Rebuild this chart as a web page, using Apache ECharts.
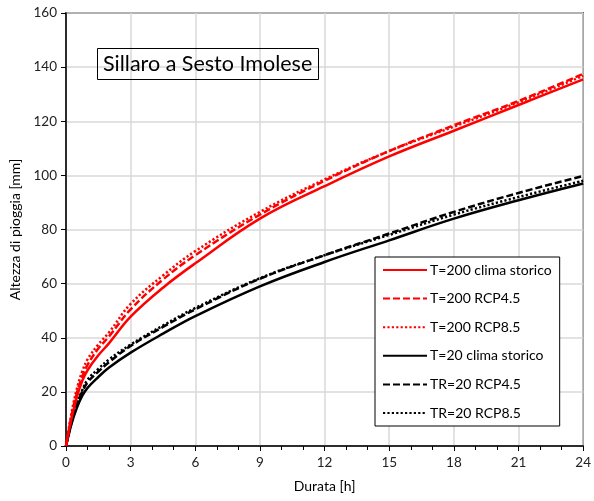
<!DOCTYPE html>
<html>
<head>
<meta charset="utf-8">
<script src="https://cdn.jsdelivr.net/npm/echarts@6/dist/echarts.min.js"></script>
<style>
html,body{margin:0;padding:0;background:#fff;}
#chart{width:594px;height:501px;}
</style>
</head>
<body>
<div id="chart"></div>
<script>
// Data
const durations = [0, 0.25, 0.5, 0.75, 1, 1.5, 2, 3, 4.5, 6, 9, 12, 15, 18, 21, 24];
const seriesNames = ['T=200 clima storico', 'T=200 RCP4.5', 'T=200 RCP8.5', 'T=20 clima storico', 'TR=20 RCP4.5', 'TR=20 RCP8.5'];
const red200Storico = [0, 10, 18, 24, 28, 33.5, 38, 47.8, 58.5, 67.5, 84, 96, 107, 116.5, 126, 135.5];
const red200Rcp45  = [0, 11, 19.5, 25.5, 30, 36, 40.5, 50.5, 61.5, 70.5, 85.5, 98, 109, 118.5, 127.5, 137.5];
const red200Rcp85  = [0, 12, 21, 27.5, 32, 37.5, 42, 52.5, 63, 72, 86.5, 98.5, 109, 118, 127, 136.8];
const black20Storico = [0, 8, 14, 18.5, 21.5, 25.5, 29, 34.5, 41.5, 48, 59, 68, 76, 84, 90.8, 97];
const black20Rcp45  = [0, 8.5, 15, 20, 23.5, 27.5, 31, 37, 44, 50.5, 61.8, 70.5, 78.5, 86.5, 93.5, 99.8];
const black20Rcp85  = [0, 9, 15.5, 20.5, 24.5, 28.5, 32, 37.5, 44.5, 51, 62, 70.5, 78, 85.5, 92, 98];
const xTicks = [0, 3, 6, 9, 12, 15, 18, 21, 24];
const yTicks = [0, 20, 40, 60, 80, 100, 120, 140, 160];

const FONT = 'Lato, "Open Sans", sans-serif';
const allValues = [red200Storico, red200Rcp45, red200Rcp85, black20Storico, black20Rcp45, black20Rcp85];
const colors = ['#ff0000', '#ff0000', '#ff0000', '#000000', '#000000', '#000000'];
const dashTypes = ['solid', [7, 3], [2.2, 2.2], 'solid', [7, 3], [2.2, 2.2]];

const series = allValues.map((vals, i) => ({
  name: seriesNames[i],
  type: 'line',
  data: durations.map((d, j) => [d, vals[j]]),
  showSymbol: false,
  symbol: 'none',
  smooth: 0.4,
  lineStyle: { color: colors[i], width: 2.5, type: dashTypes[i], cap: 'butt' },
  itemStyle: { color: colors[i] },
  z: 10 - i
}));

const chart = echarts.init(document.getElementById('chart'), null, { renderer: 'canvas' });
chart.setOption({
  animation: false,
  backgroundColor: '#fff',
  textStyle: { fontFamily: FONT },
  title: {
    text: 'Sillaro a Sesto Imolese',
    left: 97, top: 48,
    padding: [5, 6, 5, 6],
    borderColor: '#000', borderWidth: 1,
    textStyle: { fontFamily: FONT, fontSize: 21.5, fontWeight: 'normal', color: '#000' }
  },
  legend: {
    orient: 'vertical',
    left: 375, top: 257,
    padding: [6, 8, 6, 7],
    itemWidth: 44, itemHeight: 14, itemGap: 14.6,
    backgroundColor: '#fff',
    borderColor: '#000', borderWidth: 1,
    itemStyle: { opacity: 0 },
    textStyle: { fontFamily: FONT, fontSize: 14, color: '#000', padding: [0, 0, 0, -2] },
    data: seriesNames
  },
  grid: {
    left: 66, right: 7, top: 13, bottom: 55,
    show: true, borderColor: '#000', borderWidth: 1.5
  },
  xAxis: {
    type: 'value', min: xTicks[0], max: xTicks[xTicks.length - 1], interval: 3,
    name: 'Durata [h]', nameLocation: 'middle', nameGap: 33,
    nameTextStyle: { fontFamily: FONT, fontSize: 14, color: '#000' },
    axisLine: { show: true, onZero: false, lineStyle: { color: '#000', width: 1.5 } },
    axisTick: { show: true, inside: false, length: 5, lineStyle: { color: '#000', width: 1 } },
    minorTick: { show: true, splitNumber: 3, length: 4, lineStyle: { color: '#000', width: 1 } },
    axisLabel: { fontFamily: FONT, fontSize: 13.5, color: '#222', margin: 10 },
    splitLine: { show: true, lineStyle: { color: '#d9d9d9', width: 1.5 } }
  },
  yAxis: {
    type: 'value', min: yTicks[0], max: yTicks[yTicks.length - 1], interval: 20,
    name: 'Altezza di pioggia [mm]', nameLocation: 'middle', nameGap: 43,
    nameTextStyle: { fontFamily: FONT, fontSize: 14, color: '#000' },
    axisLine: { show: true, onZero: false, lineStyle: { color: '#000', width: 1.5 } },
    axisTick: { show: true, inside: false, length: 5, lineStyle: { color: '#000', width: 1 } },
    axisLabel: { fontFamily: FONT, fontSize: 13.5, color: '#222', margin: 9 },
    splitLine: { show: true, lineStyle: { color: '#d9d9d9', width: 1.5 } }
  },
  series: series
});
</script>
</body>
</html>
